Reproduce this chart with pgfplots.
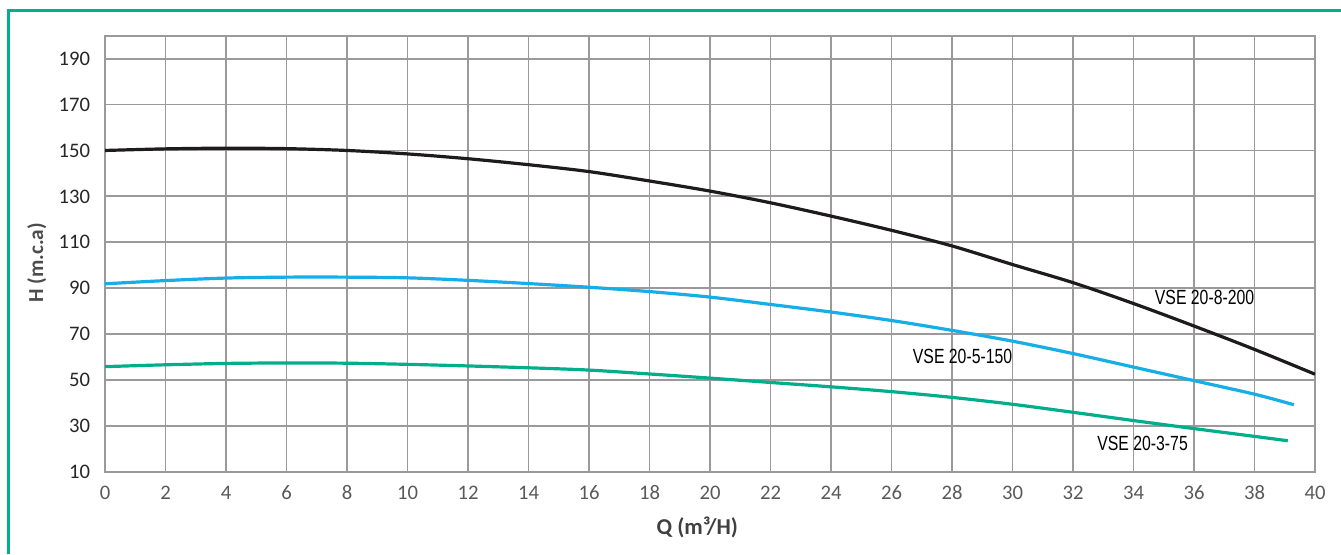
\documentclass[border=0pt]{standalone}
\usepackage{fontspec}
\setmainfont{Carlito}
\newfontfamily\arialfont{Liberation Sans}
\usepackage{graphicx}
\usepackage{pgfplots}
\pgfplotsset{compat=1.18}
\definecolor{frameg}{HTML}{00B08C}
\definecolor{gridc}{HTML}{9A9A9C}
\definecolor{cblack}{HTML}{1E1B1C}
\definecolor{cblue}{HTML}{16AEE6}
\definecolor{cgreen}{HTML}{00AE8C}
\begin{document}
\begin{tikzpicture}[x=1pt,y=1pt]
\useasboundingbox (0,0) rectangle (1005.75,415.5);
\draw[frameg, line width=2.6pt] (6.2,0) -- (6.2,407.6) -- (1010,407.6);
\begin{axis}[
  at={(78.75pt,61.7pt)}, anchor=south west,
  scale only axis, width=907.5pt, height=327pt,
  xmin=0, xmax=40, ymin=10, ymax=200,
  xtick={0,2,...,40}, ytick={10,30,...,190},
  grid=major,
  major grid style={gridc, line width=1.3pt},
  axis line style={gridc, line width=1.6pt},
  major tick length=0pt,
  /pgf/number format/assume math mode=true,
  tick label style={font=\fontsize{15.5}{18}\selectfont, inner sep=0pt},
  xticklabel style={anchor=center, yshift=-15.75pt, text=black!65},
  yticklabel style={anchor=east, xshift=-11pt, text=black!85},
  xlabel={Q (m³/H)},
  xlabel style={at={(axis description cs:0.4895,-0.128)}, anchor=center, font=\fontsize{17}{20}\selectfont\bfseries, text=black!75},
  ylabel={H (m.c.a)},
  ylabel style={at={(axis description cs:-0.0564,0.479)}, anchor=center, font=\fontsize{16}{19}\selectfont\bfseries, text=black!70},
  clip=true,
]
\addplot[cblack, line width=2.4pt, smooth] coordinates {
(0,150.0)(2,150.7)(4,151.0)(6,150.8)(8,150.0)(10,148.5)(12,146.4)(14,143.8)(16,140.8)(18,136.7)(20,132.3)(22,127.2)(24,121.4)(26,115.2)(28,108.4)(30,100.3)(32,92.4)(34,83.3)(36,73.5)(38,63.3)(40,52.5)};
\addplot[cblue, line width=2.4pt, smooth] coordinates {
(0,91.9)(2,93.3)(4,94.4)(6,94.8)(8,94.8)(10,94.5)(12,93.4)(14,92.0)(16,90.4)(18,88.5)(20,86.1)(22,82.9)(24,79.6)(26,75.9)(28,71.6)(30,66.9)(32,61.5)(34,55.6)(36,49.7)(38,43.8)(39.3,39.2)};
\addplot[cgreen, line width=2.4pt, smooth] coordinates {
(0,55.8)(2,56.6)(4,57.2)(6,57.4)(8,57.3)(10,56.8)(12,56.1)(14,55.3)(16,54.3)(18,52.6)(20,50.8)(22,48.9)(24,47.0)(26,44.9)(28,42.4)(30,39.4)(32,35.9)(34,32.3)(36,28.8)(38,25.4)(39.1,23.5)};
\node[font=\arialfont\fontsize{15.4}{18}\selectfont, inner sep=0pt] at (axis cs:36.35,85.8) {\scalebox{0.77}[1]{VSE 20-8-200}};
\node[font=\arialfont\fontsize{15.4}{18}\selectfont, inner sep=0pt] at (axis cs:28.35,60.4) {\scalebox{0.77}[1]{VSE 20-5-150}};
\node[font=\arialfont\fontsize{15.4}{18}\selectfont, inner sep=0pt] at (axis cs:34.3,22.5) {\scalebox{0.77}[1]{VSE 20-3-75}};
\end{axis}
\end{tikzpicture}
\end{document}
